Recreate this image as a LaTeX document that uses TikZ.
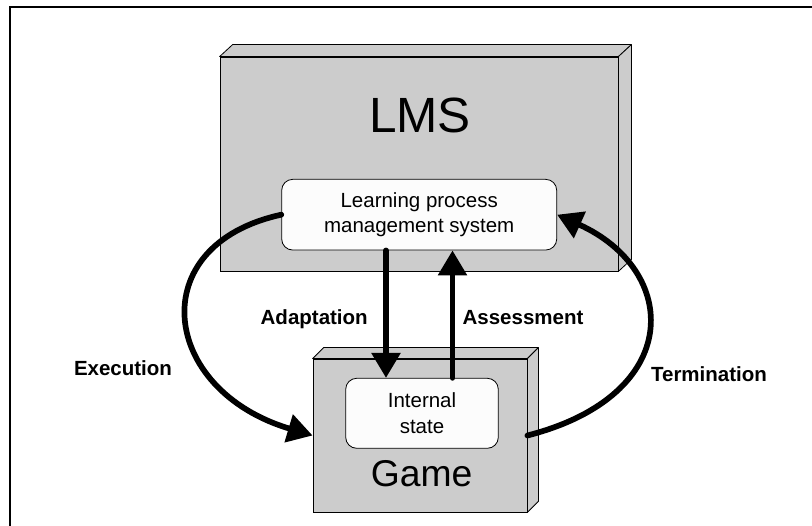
\documentclass[tikz,border=0pt]{standalone}
\usepackage{fontspec}
\setmainfont{Liberation Sans}
\usetikzlibrary{arrows.meta}
\definecolor{boxgrey}{HTML}{CCCCCC}
\definecolor{paper}{HTML}{FCFCFC}
\begin{document}
\begin{tikzpicture}[x=1pt,y=-1pt,
  slab/.style={draw=black, line width=0.8pt, fill=boxgrey, inner sep=0pt},
  face/.style={draw=black, line width=0.8pt, fill=boxgrey, line join=round},
  panel/.style={draw=black, line width=0.8pt, fill=paper, rounded corners=11pt,
    inner sep=0pt, align=center, font=\fontsize{20.5}{25.3}\selectfont},
  title/.style={anchor=base},
  flow/.style={line width=5.7pt, line cap=round, -{Triangle[length=25pt,width=28pt]}},
  tag/.style={font=\fontsize{20.5}{24}\selectfont\bfseries, anchor=base},
  ]
\useasboundingbox (0,0) rectangle (812,526);
\fill[white] (0,0) rectangle (812,526);

% open frame: top and left edges
\draw[line width=1.8pt] (812,7) -- (10,7) -- (10,526);

% LMS block
\node[slab, minimum width=398pt, minimum height=214pt] (lms) at (419,164) {};
\draw[face] (lms.north west) -- ++(13,-12) -- ([shift={(13,-12)}]lms.north east) -- (lms.north east) -- cycle;
\draw[face] (lms.north east) -- ++(13,-12) -- ([shift={(13,-12)}]lms.south east) -- (lms.south east) -- cycle;
\node[title, font=\fontsize{49.5}{50}\selectfont] (lmstitle) at (420,133) {LMS};
\node[panel, minimum width=275pt, minimum height=70.7pt] (lpms) at (419.2,214.7)
  {Learning process\\management system};

% Game block
\node[slab, minimum width=214pt, minimum height=153pt] (game) at (420,435.5) {};
\draw[face] (game.north west) -- ++(11,-11) -- ([shift={(11,-11)}]game.north east) -- (game.north east) -- cycle;
\draw[face] (game.north east) -- ++(11,-11) -- ([shift={(11,-11)}]game.south east) -- (game.south east) -- cycle;
\node[panel, minimum width=152.6pt, minimum height=70pt] (state) at (422,413.3) {Internal\\state};
\node[title, font=\fontsize{37.3}{40}\selectfont] (gametitle) at (421.7,486.7) {Game};

% connectors
\coordinate (ax) at (386,0);
\coordinate (sx) at (452.5,0);
\draw[flow] (lpms.south -| ax) -- (state.north -| ax);
\draw[flow] (state.north -| sx) -- (lpms.south -| sx);
\draw[flow] (lpms.west) .. controls (142,245) and (160,390) .. (game.west);
\draw[flow] (game.east) .. controls (685,395) and (680,270) .. (lpms.east);

% connector labels
\node[tag] (adapt) at (314.2,325) {Adaptation};
\node[tag] (assess) at (523,325) {Assessment};
\node[tag] (exec) at (123,376) {Execution};
\node[tag] (term) at (709,381.7) {Termination};
\end{tikzpicture}
\end{document}
